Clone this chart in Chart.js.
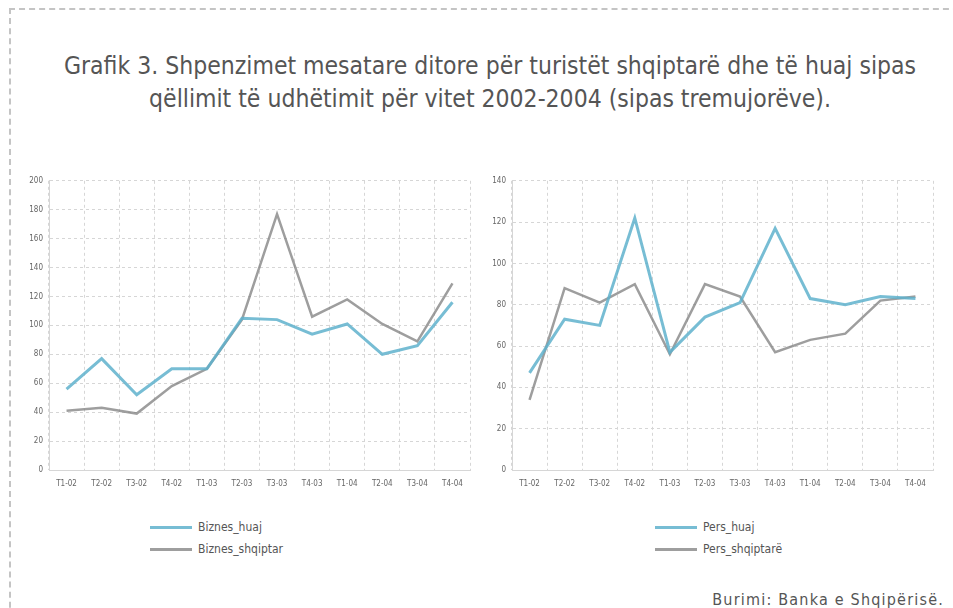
<!DOCTYPE html>
<html>
<head>
<meta charset="utf-8">
<script src="https://cdn.jsdelivr.net/npm/chart.js@4"></script>
<style>
  body { margin: 0; background: #fff; }
  #page {
    position: relative; width: 953px; height: 608px; overflow: hidden;
    font-family: "DejaVu Sans Condensed", "DejaVu Sans", sans-serif; color: #555;
  }
  #frame {
    position: absolute; left: 9px; top: 8px; width: 960px; height: 640px;
    border: 2px dashed #c4c4c4; box-sizing: border-box;
  }
  #title {
    position: absolute; left: 0; top: 49px; width: 980px; text-align: center;
    font-size: 24.5px; line-height: 33px; color: #555;
  }
  .box { position: absolute; }
  .legend { position: absolute; font-size: 12px; color: #555; }
  .legend div { height: 22px; line-height: 22px; white-space: nowrap; }
  .legend span.sw { display: inline-block; width: 42px; height: 3px; vertical-align: middle; margin-right: 6px; }
  #source { position: absolute; right: 9px; top: 590px; font-size: 16px; letter-spacing: 1.2px; color: #555; }
</style>
</head>
<body>
<div id="page">
  <div id="frame"></div>
  <div id="title">Grafik 3. Shpenzimet mesatare ditore për turistët shqiptarë dhe të huaj sipas<br>qëllimit të udhëtimit për vitet 2002-2004 (sipas tremujorëve).</div>
  <div class="box" style="left:20px; top:170px; width:460px; height:330px;"><canvas id="c1"></canvas></div>
  <div class="box" style="left:480px; top:170px; width:465px; height:330px;"><canvas id="c2"></canvas></div>
  <div class="legend" id="leg1" style="left:150px; top:516px;"></div>
  <div class="legend" id="leg2" style="left:655px; top:516px;"></div>
  <div id="source">Burimi: Banka e Shqipërisë.</div>
</div>
<script>
// Tremujorët 2002-2004
var labels = ["T1-02", "T2-02", "T3-02", "T4-02", "T1-03", "T2-03", "T3-03", "T4-03", "T1-04", "T2-04", "T3-04", "T4-04"];

// Grafiku majtas: biznes
var biznesHuaj = [56, 77, 52, 70, 70, 105, 104, 94, 101, 80, 86, 116];
var biznesShqiptar = [41, 43, 39, 58, 70, 104, 177, 106, 118, 101, 89, 129];

// Grafiku djathtas: personale
var persHuaj = [47, 73, 70, 122, 57, 74, 81, 117, 83, 80, 84, 83];
var persShqiptar = [34, 88, 81, 90, 56, 90, 84, 57, 63, 66, 82, 84];

var blue = "rgba(95, 178, 204, 0.85)";
var grey = "rgba(125, 125, 125, 0.75)";
var gridCol = "#d6d6d6";
var tickFont = { size: 8, family: "DejaVu Sans Condensed" };

function makeChart(id, names, series, yMax, yWidth, padRight) {
    var ctx = document.getElementById(id).getContext('2d');
    return new Chart(ctx, {
        type: 'line',
        data: {
            labels: labels,
            datasets: [
                { label: names[0], data: series[0], borderColor: blue, borderWidth: 3, pointRadius: 0, tension: 0, fill: false },
                { label: names[1], data: series[1], borderColor: grey, borderWidth: 2.5, pointRadius: 0, tension: 0, fill: false }
            ]
        },
        options: {
            responsive: true,
            maintainAspectRatio: false,
            animation: false,
            layout: { padding: { top: 8, right: padRight, bottom: 0, left: 0 } },
            plugins: { legend: { display: false }, tooltip: { enabled: false } },
            scales: {
                x: {
                    offset: true,
                    grid: { color: gridCol, lineWidth: 1, offset: true, drawTicks: false },
                    border: { display: true, color: gridCol, dash: [3, 3] },
                    ticks: { font: tickFont, color: "#666", maxRotation: 0, autoSkip: false, padding: 9 },
                    afterFit: function (scale) { scale.height = 30; }
                },
                y: {
                    min: 0, max: yMax,
                    grid: { color: gridCol, lineWidth: 1, drawTicks: false },
                    border: { display: true, color: gridCol, dash: [3, 3] },
                    ticks: { stepSize: 20, font: tickFont, color: "#666", padding: 6 },
                    afterFit: function (scale) { scale.width = yWidth; }
                }
            }
        }
    });
}

var chart1 = makeChart('c1', ["Biznes_huaj", "Biznes_shqiptar"], [biznesHuaj, biznesShqiptar], 200, 29, 10);
var chart2 = makeChart('c2', ["Pers_huaj", "Pers_shqiptarë"], [persHuaj, persShqiptar], 140, 32, 12);

// Legjenda nga të dhënat e grafikut
function legend(chart, el) {
    var html = "";
    chart.data.datasets.forEach(function (ds) {
        html += '<div><span class="sw" style="background:' + ds.borderColor + '"></span>' + ds.label + '</div>';
    });
    document.getElementById(el).innerHTML = html;
}
legend(chart1, 'leg1');
legend(chart2, 'leg2');
</script>
</body>
</html>
